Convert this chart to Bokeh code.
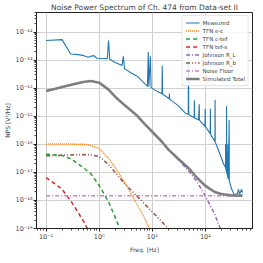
from bokeh.plotting import figure
from bokeh.models import FixedTicker, CustomJSTickFormatter, Legend, LegendItem
from bokeh.embed import file_html
from bokeh.resources import INLINE

# ---------------- data ----------------
meas_freq = [0.1, 0.2, 0.29, 0.4, 0.5, 0.62, 0.72, 0.8, 0.9, 1.3, 1.42, 1.5, 1.58, 2.0, 2.7, 2.85, 3.0,
             4.0, 5.3, 8.1, 8.4, 8.6, 9.2, 9.5, 12, 15.2, 15.4, 15.6, 20.8, 21, 21.2, 24, 30, 42,
             47.5, 48, 48.5, 61.5, 62, 62.5, 74, 76.6, 77, 98, 99, 100, 123, 124, 125, 130, 151,
             152, 153, 170, 220, 239, 240, 241, 249, 250, 251, 259, 260, 261, 264, 265, 266, 270,
             280, 282, 310, 350, 400, 420, 440, 480, 500]
meas_nps = [5.0e-13, 5.4e-13, 1.66e-13, 1.58e-13, 1.48e-13, 1.26e-13, 1.41e-13, 1.45e-13, 1.17e-13,
            1.15e-13, 1.12e-13, 5.0e-13, 1.07e-13, 8.3e-14, 6.5e-14, 1.38e-13, 5.0e-14,
            3.5e-14, 2.6e-14, 1.17e-14, 1.95e-13, 1.12e-14, 1.38e-13, 1.05e-14, 7.9e-15, 6.3e-15,
            6.5e-14, 6.2e-15, 4.2e-15, 6.5e-15, 4.1e-15, 3.4e-15, 2.5e-15, 1.29e-15,
            1.17e-15, 3.6e-13, 1.15e-15, 8.9e-16, 3.7e-15, 8.8e-16, 7.4e-16, 2.7e-15, 7.3e-16,
            4.4e-16, 1.86e-15, 4.3e-16, 2.4e-16, 1.86e-15, 2.35e-16, 2.0e-16, 1.26e-16,
            3.9e-15, 1.2e-16, 7.4e-17, 2.0e-17, 1.5e-17, 1.0e-16, 1.45e-17, 1.05e-17, 2.3e-15,
            1.0e-17, 8.0e-18, 5.0e-17, 7.8e-18, 6.8e-18, 1.0e-16, 6.6e-18, 5.8e-18,
            7.4e-16, 5.0e-18, 2.6e-18, 1.58e-18, 1.78e-18, 2.5e-18, 1.66e-18, 2.5e-18, 1.9e-18]

model_freq = [0.1, 0.15, 0.2, 0.3, 0.5, 0.7, 1.0, 1.5, 2, 3, 5, 7, 10, 15, 20, 30, 50, 70, 100,
              150, 200, 300, 500]
sim_total = [7.9e-15, 9.5e-15, 1.1e-14, 1.32e-14, 1.66e-14, 1.82e-14, 1.58e-14, 8.9e-15, 5.0e-15,
             2.5e-15, 1.12e-15, 5.6e-16, 2.8e-16, 1.26e-16, 6.6e-17, 3.2e-17, 1.32e-17, 6.3e-18,
             3.3e-18, 2.0e-18, 1.7e-18, 1.52e-18, 1.48e-18]
johnson_rl = [7.9e-15, 9.5e-15, 1.1e-14, 1.32e-14, 1.66e-14, 1.82e-14, 1.58e-14, 8.9e-15, 5.0e-15,
              2.5e-15, 1.12e-15, 5.6e-16, 2.8e-16, 1.26e-16, 6.5e-17, 3.0e-17, 1.05e-17, 4.5e-18,
              1.41e-18, 3.2e-19, 7.9e-20, 6.3e-21, 3.2e-22]
johnson_rb = [3.9e-17, 4.0e-17, 4.1e-17, 4.2e-17, 4.3e-17, 4.2e-17, 3.7e-17, 1.9e-17, 1.0e-17,
              4.0e-18, 1.5e-18, 7.8e-19, 3.9e-19, 1.78e-19, 1.0e-19, 4.5e-20, 1.6e-20, 7.9e-21,
              4.0e-21, 1.8e-21, 1.0e-21, 4.5e-22, 1.6e-22]
noise_floor = [1.48e-18] * len(model_freq)

tfn_ec_freq = [0.1, 0.15, 0.2, 0.3, 0.5, 0.7, 1.0, 1.5, 2, 3, 5, 7, 10, 15]
tfn_ec = [1.02e-16, 1.02e-16, 1.02e-16, 1.02e-16, 1.0e-16, 9.1e-17, 7.1e-17, 3.2e-17, 1.48e-17,
          4.5e-18, 7.9e-19, 2.5e-19, 6.3e-20, 1.0e-20]
tfn_ctef_freq = [0.1, 0.15, 0.2, 0.3, 0.5, 0.7, 1.0, 1.5, 2, 3, 5]
tfn_ctef = [4.4e-17, 4.2e-17, 4.0e-17, 3.0e-17, 1.48e-17, 8.9e-18, 3.4e-18, 8.9e-19, 2.5e-19,
            4.0e-20, 3.2e-21]
tfn_tefs_freq = [0.1, 0.15, 0.2, 0.3, 0.5, 0.7, 1.0]
tfn_tefs = [6.5e-18, 3.8e-18, 2.5e-18, 8.9e-19, 1.9e-19, 5.6e-20, 1.3e-20]

x_ticks = [0.1, 1, 10, 100]
y_ticks = [1e-19, 1e-18, 1e-17, 1e-16, 1e-15, 1e-14, 1e-13, 1e-12]

FONT = "DejaVu Sans"

p = figure(width=255, height=255, x_axis_type="log", y_axis_type="log",
           x_range=(0.066, 770), y_range=(1e-19, 5e-12),
           output_backend="svg", toolbar_location=None,
           title="Noise Power Spectrum of Ch. 474 from Data-set II",
           min_border_left=4, min_border_right=3, min_border_top=2, min_border_bottom=2)
p.title.align = "center"
p.title.text_font = FONT
p.title.text_font_size = "7.5px"
p.title.text_font_style = "normal"
p.title.standoff = 1

def minors(decs):
    out = []
    for d in decs:
        for m in range(2, 10):
            out.append(m * d)
    return out

p.xaxis.ticker = FixedTicker(ticks=x_ticks, minor_ticks=minors([0.01, 0.1, 1, 10, 100]))
p.yaxis.ticker = FixedTicker(ticks=y_ticks, minor_ticks=minors([1e-20] + y_ticks))
fmt = CustomJSTickFormatter(code="""
const e = Math.round(Math.log10(tick));
const sup = {'-':'\u207b','0':'\u2070','1':'\u00b9','2':'\u00b2','3':'\u00b3','4':'\u2074',
             '5':'\u2075','6':'\u2076','7':'\u2077','8':'\u2078','9':'\u2079'};
return '10' + String(e).split('').map(c => sup[c]).join('');
""")
p.xaxis.formatter = fmt
p.yaxis.formatter = fmt

for ax in (p.xaxis, p.yaxis):
    ax.major_label_text_font = FONT
    ax.major_label_text_font_size = "6.5px"
    ax.axis_label_text_font = FONT
    ax.axis_label_text_font_size = "6px"
    ax.axis_label_text_font_style = "normal"
    ax.major_tick_out = 3
    ax.major_tick_in = 0
    ax.minor_tick_out = 2
    ax.minor_tick_in = 0
    ax.axis_line_color = "#222222"
    ax.major_tick_line_color = "#222222"
    ax.minor_tick_line_color = "#444444"
    ax.major_label_standoff = 1
    ax.axis_label_standoff = 2
p.xaxis.axis_label = "Freq. [Hz]"
p.yaxis.axis_label = "NPS [V\u00b2/Hz]"

p.grid.grid_line_color = "#d0d0d0"
p.grid.grid_line_width = 1
p.outline_line_color = "#222222"
p.outline_line_alpha = 1

r_meas = p.line(meas_freq, meas_nps, line_color="#1f77b4", line_width=1.1)
r_ec = p.line(tfn_ec_freq, tfn_ec, line_color="#ff7f0e", line_width=1.5, line_dash="1 1")
r_ctef = p.line(tfn_ctef_freq, tfn_ctef, line_color="#2ca02c", line_width=1.5, line_dash="4 3")
r_tefs = p.line(tfn_tefs_freq, tfn_tefs, line_color="#d62728", line_width=1.5, line_dash="4 3")
r_rl = p.line(model_freq, johnson_rl, line_color="#9467bd", line_width=1.5, line_dash="4 2 1 2")
r_rb = p.line(model_freq, johnson_rb, line_color="#8c564b", line_width=1.5,
              line_dash="4 2 1 2 1 2")
r_nf = p.line(model_freq, noise_floor, line_color="#e377c2", line_width=1.5, line_dash="4 2 1 2")
r_tot = p.line(model_freq, sim_total, line_color="#7f7f7f", line_width=2.6)

legend = Legend(items=[
    LegendItem(label="Measured", renderers=[r_meas]),
    LegendItem(label="TFN e-c", renderers=[r_ec]),
    LegendItem(label="TFN c-tef", renderers=[r_ctef]),
    LegendItem(label="TFN tef-s", renderers=[r_tefs]),
    LegendItem(label="Johnson R_L", renderers=[r_rl]),
    LegendItem(label="Johnson R_b", renderers=[r_rb]),
    LegendItem(label="Noise Floor", renderers=[r_nf]),
    LegendItem(label="Simulated Total", renderers=[r_tot]),
], location="top_right")
legend.label_text_font = FONT
legend.label_text_font_size = "5.5px"
legend.label_height = 7
legend.glyph_height = 7
legend.glyph_width = 14
legend.spacing = 1
legend.padding = 3
legend.margin = 3
legend.label_standoff = 3
legend.border_line_color = "#cccccc"
legend.background_fill_alpha = 0.85
p.add_layout(legend)

open("out.html", "w").write(file_html(p, INLINE))
